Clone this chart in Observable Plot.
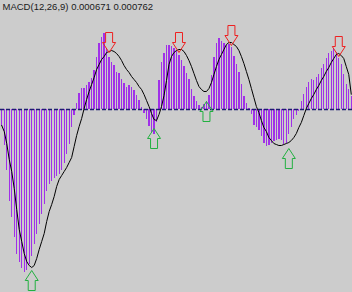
<!DOCTYPE html>
<html>
<head>
<meta charset="utf-8">
<script src="https://cdn.jsdelivr.net/npm/d3@7"></script>
<script src="https://cdn.jsdelivr.net/npm/@observablehq/plot@0.6"></script>
<style>
  html, body { margin: 0; padding: 0; background: #cccccc; }
  #chart { width: 352px; height: 292px; overflow: hidden; }
</style>
</head>
<body>
<div id="chart"></div>
<script>
// Title text
const title = "MACD(12,26,9) 0.000671 0.000762";

// MACD histogram per bar, in units of 0.00001
const hist = [
  -85, -180, -305, -460, -540, -640, -725, -765, -795, -815,
  -805, -775, -735, -675, -625, -575, -525, -475, -410, -375,
  -360, -345, -335, -325, -305, -270, -225, -175, -90, -30,
  30, 80, 105, 105, 120, 135, 155, 195, 260, 330,
  360, 380, 305, 260, 235, 220, 185, 180, 150, 130,
  110, 120, 110, 95, 70, 45, 10, -20, -50, -85,
  -115, -125, -65, 145, 235, 280, 320, 320, 315, 305,
  290, 270, 245, 215, 180, 150, 100, 65, 40, 20,
  10, 25, 40, 70, 170, 260, 330, 355, 340, 330,
  320, 325, 310, 265, 225, 185, 125, 65, 30, 5,
  -25, -80, -90, -105, -135, -170, -185, -180, -170, -160,
  -155, -150, -155, -175, -170, -125, -90, -50, -30, -10,
  40, 75, 110, 135, 150, 145, 160, 175, 205, 225,
  255, 280, 290, 305, 285, 255, 225, 175, 125, 100,
  67.1
];

// Signal line per bar, in units of 0.00001
const signal = [
  -80, -110, -170, -250, -310, -395, -500, -600, -660, -720,
  -760, -780, -790, -780, -745, -700, -660, -620, -560, -510,
  -475, -435, -385, -350, -330, -310, -290, -265, -240, -185,
  -130, -85, -45, 5, 50, 90, 125, 160, 200, 225,
  250, 265, 285, 290, 295, 290, 280, 265, 245, 220,
  200, 185, 165, 150, 135, 115, 100, 75, 45, 15,
  -20, -50, -55, -25, 15, 70, 145, 225, 265, 285,
  295, 300, 300, 290, 270, 245, 215, 180, 145, 115,
  100, 90, 90, 105, 135, 175, 215, 250, 275, 300,
  325, 335, 335, 325, 315, 295, 265, 230, 190, 150,
  105, 60, 15, -15, -55, -90, -110, -140, -155, -170,
  -175, -180, -180, -175, -170, -165, -155, -140, -120, -90,
  -65, -30, 5, 30, 55, 75, 100, 120, 145, 165,
  190, 210, 235, 255, 275, 280, 270, 255, 215, 175,
  76.2
];

// Arrow signals: bar index and value (units of 0.00001)
const sellBars = [43, 71, 92, 135];
const sellValues = [285, 285, 320, 265];
const buyBars = [12, 61, 82, 115];
const buyValues = [-805, -95, 40, -195];

const unit = 1e-5;
const N = hist.length;
const bars = hist.map((h, i) => ({i, h: h * unit, s: signal[i] * unit}));
const sells = sellBars.map((b, k) => ({i: b, v: sellValues[k] * unit}));
const buys = buyBars.map((b, k) => ({i: b, v: buyValues[k] * unit}));

// Arrow symbols, tip at the anchor point
const arrowDown = {
  draw(ctx) {
    ctx.moveTo(0, 0);
    ctx.lineTo(6.5, -10);
    ctx.lineTo(3.5, -10);
    ctx.lineTo(3.5, -20);
    ctx.lineTo(-3.5, -20);
    ctx.lineTo(-3.5, -10);
    ctx.lineTo(-6.5, -10);
    ctx.closePath();
  }
};
const arrowUp = {
  draw(ctx) {
    ctx.moveTo(0, 0);
    ctx.lineTo(6.5, 10);
    ctx.lineTo(3.5, 10);
    ctx.lineTo(3.5, 20);
    ctx.lineTo(-3.5, 20);
    ctx.lineTo(-3.5, 10);
    ctx.lineTo(-6.5, 10);
    ctx.closePath();
  }
};

const chart = Plot.plot({
  width: 352,
  height: 292,
  margin: 0,
  style: {background: "#cccccc", fontFamily: "'Liberation Sans', Arial, sans-serif"},
  x: {domain: [-0.5, N - 0.5], axis: null},
  y: {domain: [-915 * unit, 545 * unit], axis: null},
  marks: [
    Plot.ruleX(bars, {x: "i", y1: 0, y2: "h", stroke: "#a030e8", strokeWidth: 1.3, shapeRendering: "crispEdges"}),
    Plot.ruleY([0], {stroke: "#1c1c70", strokeWidth: 1.5, strokeDasharray: "4,2"}),
    Plot.line(bars, {x: "i", y: "s", stroke: "#000000", strokeWidth: 1}),
    Plot.dot(sells, {x: "i", y: "v", symbol: arrowDown, fill: "none", stroke: "#ee2020", strokeWidth: 1}),
    Plot.dot(buys, {x: "i", y: "v", symbol: arrowUp, fill: "none", stroke: "#22b040", strokeWidth: 1}),
    Plot.text([title], {
      frameAnchor: "top-left", text: d => d, dx: 2, dy: 3,
      textAnchor: "start", lineAnchor: "top",
      fontSize: 9.5, fill: "#1a1a1a"
    })
  ]
});
document.getElementById("chart").append(chart);
</script>
</body>
</html>
